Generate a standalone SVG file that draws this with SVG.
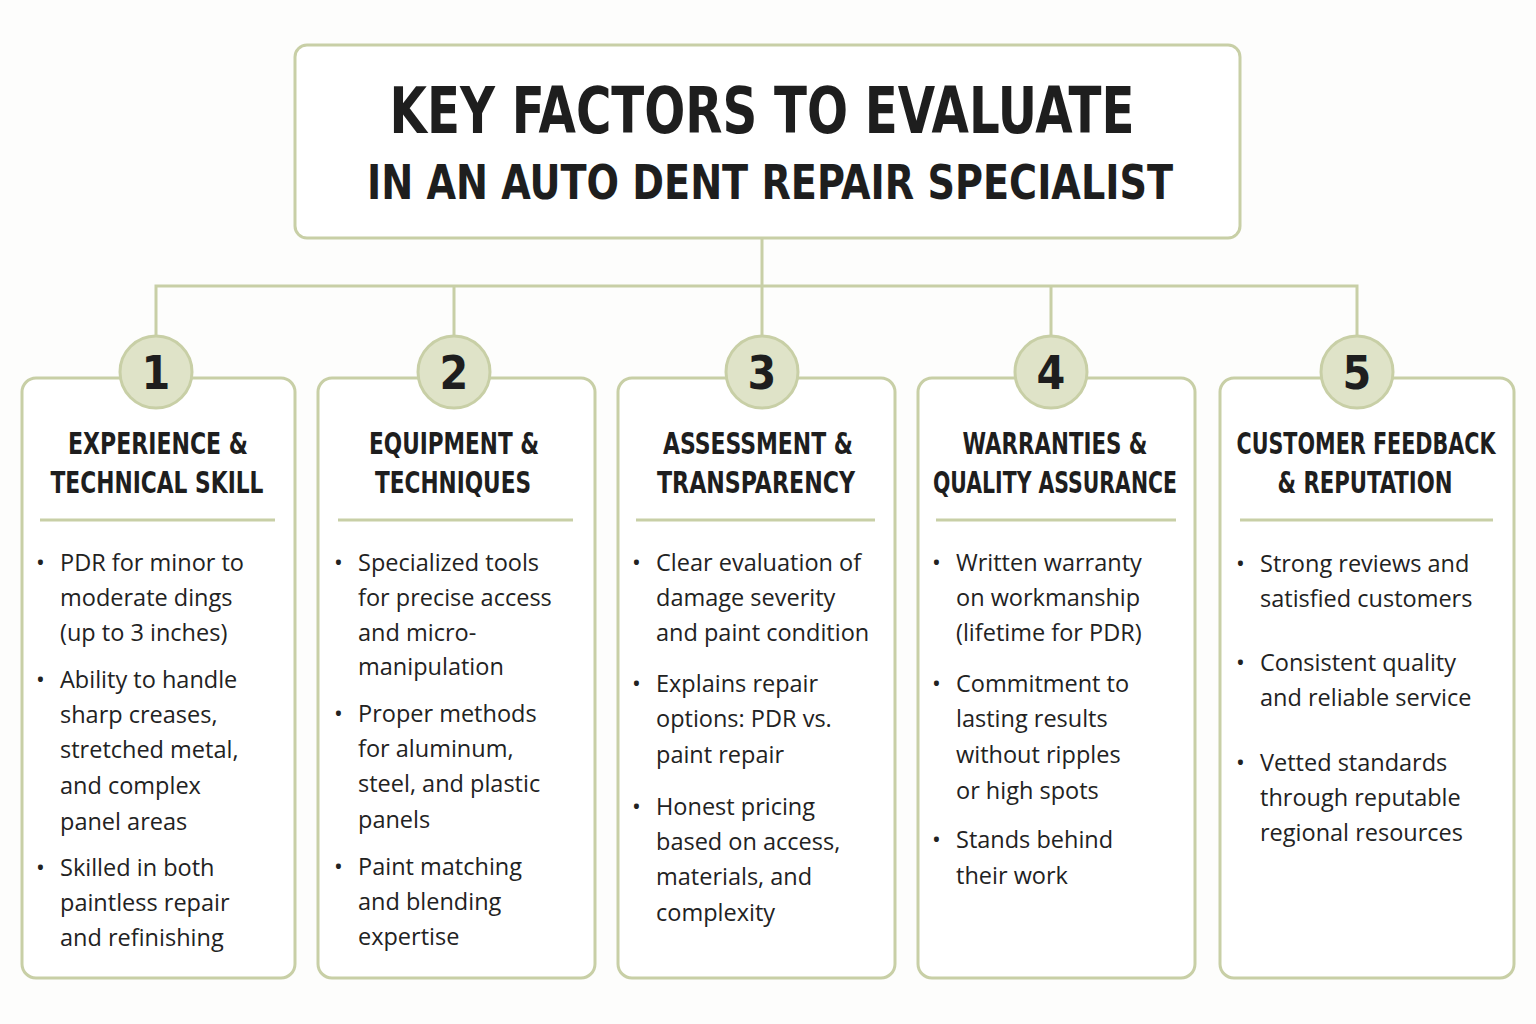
<svg xmlns="http://www.w3.org/2000/svg" width="1536" height="1024" viewBox="0 0 1536 1024">
<style>
.box{fill:#fff;stroke:#c8cfa6;stroke-width:3}
.num{fill:#dfe3c8;stroke:#c8cfa6;stroke-width:3}
.n{font-family:"DejaVu Sans Condensed","DejaVu Sans",sans-serif;font-weight:bold;font-size:46px;fill:#1e1e1e;text-anchor:middle}
.h{font-family:"DejaVu Sans Condensed","DejaVu Sans",sans-serif;font-weight:bold;font-size:30px;fill:#1e1e1e;text-anchor:middle}
.b{font-family:"Open Sans","Noto Sans",sans-serif;font-size:23.5px;fill:#222}
.sep{stroke:#c8cfa6;stroke-width:3}
.con{fill:none;stroke:#c8cfa6;stroke-width:3}
.t1{font-family:"DejaVu Sans Condensed","DejaVu Sans",sans-serif;font-weight:bold;font-size:64px;fill:#1e1e1e;text-anchor:middle}
.t2{font-family:"DejaVu Sans Condensed","DejaVu Sans",sans-serif;font-weight:bold;font-size:48px;fill:#1e1e1e;text-anchor:middle}
</style>
<rect width="1536" height="1024" fill="#fdfdfc"/>
<g id="connectors">
<path class="con" d="M762 238V286M156 336V286H1357V336M454 286V336M762 286V336M1051 286V336"/>
</g>
<g id="title">
<rect class="box" x="295" y="45" width="945" height="193" rx="12"/>
<text class="t1" x="762" y="133" textLength="745" lengthAdjust="spacingAndGlyphs">KEY FACTORS TO EVALUATE</text>
<text class="t2" x="770" y="199" textLength="806" lengthAdjust="spacingAndGlyphs">IN AN AUTO DENT REPAIR SPECIALIST</text>
</g>
<g id="card1">
<rect class="box" x="22" y="378" width="273" height="600" rx="14"/>
<circle class="num" cx="156" cy="372" r="36"/><text class="n" x="156" y="389">1</text>
<text class="h" x="158" y="454" textLength="180" lengthAdjust="spacingAndGlyphs">EXPERIENCE &amp;</text><text class="h" x="157" y="493" textLength="213" lengthAdjust="spacingAndGlyphs">TECHNICAL SKILL</text>
<line class="sep" x1="40" y1="520" x2="275" y2="520"/>
<text class="b"><tspan x="36" y="571">•</tspan><tspan x="60" y="571">PDR for minor to</tspan><tspan x="60" y="606">moderate dings</tspan><tspan x="60" y="641">(up to 3 inches)</tspan>
<tspan x="36" y="688">•</tspan><tspan x="60" y="688">Ability to handle</tspan><tspan x="60" y="723">sharp creases,</tspan><tspan x="60" y="758">stretched metal,</tspan><tspan x="60" y="794">and complex</tspan><tspan x="60" y="830">panel areas</tspan>
<tspan x="36" y="876">•</tspan><tspan x="60" y="876">Skilled in both</tspan><tspan x="60" y="911">paintless repair</tspan><tspan x="60" y="946">and refinishing</tspan></text>
</g>
<g id="card2">
<rect class="box" x="318" y="378" width="277" height="600" rx="14"/>
<circle class="num" cx="454" cy="372" r="36"/><text class="n" x="454" y="389">2</text>
<text class="h" x="454" y="454" textLength="170" lengthAdjust="spacingAndGlyphs">EQUIPMENT &amp;</text><text class="h" x="453" y="493" textLength="156" lengthAdjust="spacingAndGlyphs">TECHNIQUES</text>
<line class="sep" x1="338" y1="520" x2="573" y2="520"/>
<text class="b"><tspan x="334" y="571">•</tspan><tspan x="358" y="571">Specialized tools</tspan><tspan x="358" y="606">for precise access</tspan><tspan x="358" y="641">and micro-</tspan><tspan x="358" y="675">manipulation</tspan>
<tspan x="334" y="722">•</tspan><tspan x="358" y="722">Proper methods</tspan><tspan x="358" y="757">for aluminum,</tspan><tspan x="358" y="792">steel, and plastic</tspan><tspan x="358" y="828">panels</tspan>
<tspan x="334" y="875">•</tspan><tspan x="358" y="875">Paint matching</tspan><tspan x="358" y="910">and blending</tspan><tspan x="358" y="945">expertise</tspan></text>
</g>
<g id="card3">
<rect class="box" x="618" y="378" width="277" height="600" rx="14"/>
<circle class="num" cx="762" cy="372" r="36"/><text class="n" x="762" y="389">3</text>
<text class="h" x="758" y="454" textLength="190" lengthAdjust="spacingAndGlyphs">ASSESSMENT &amp;</text><text class="h" x="756" y="493" textLength="198" lengthAdjust="spacingAndGlyphs">TRANSPARENCY</text>
<line class="sep" x1="636" y1="520" x2="875" y2="520"/>
<text class="b"><tspan x="632" y="571">•</tspan><tspan x="656" y="571">Clear evaluation of</tspan><tspan x="656" y="606">damage severity</tspan><tspan x="656" y="641">and paint condition</tspan>
<tspan x="632" y="692">•</tspan><tspan x="656" y="692">Explains repair</tspan><tspan x="656" y="727">options: PDR vs.</tspan><tspan x="656" y="763">paint repair</tspan>
<tspan x="632" y="815">•</tspan><tspan x="656" y="815">Honest pricing</tspan><tspan x="656" y="850">based on access,</tspan><tspan x="656" y="885">materials, and</tspan><tspan x="656" y="921">complexity</tspan></text>
</g>
<g id="card4">
<rect class="box" x="918" y="378" width="277" height="600" rx="14"/>
<circle class="num" cx="1051" cy="372" r="36"/><text class="n" x="1051" y="389">4</text>
<text class="h" x="1055" y="454" textLength="185" lengthAdjust="spacingAndGlyphs">WARRANTIES &amp;</text><text class="h" x="1055" y="493" textLength="244" lengthAdjust="spacingAndGlyphs">QUALITY ASSURANCE</text>
<line class="sep" x1="936" y1="520" x2="1176" y2="520"/>
<text class="b"><tspan x="932" y="571">•</tspan><tspan x="956" y="571">Written warranty</tspan><tspan x="956" y="606">on workmanship</tspan><tspan x="956" y="641">(lifetime for PDR)</tspan>
<tspan x="932" y="692">•</tspan><tspan x="956" y="692">Commitment to</tspan><tspan x="956" y="727">lasting results</tspan><tspan x="956" y="763">without ripples</tspan><tspan x="956" y="799">or high spots</tspan>
<tspan x="932" y="848">•</tspan><tspan x="956" y="848">Stands behind</tspan><tspan x="956" y="884">their work</tspan></text>
</g>
<g id="card5">
<rect class="box" x="1220" y="378" width="294" height="600" rx="14"/>
<circle class="num" cx="1357" cy="372" r="36"/><text class="n" x="1357" y="389">5</text>
<text class="h" x="1366" y="454" textLength="259" lengthAdjust="spacingAndGlyphs">CUSTOMER FEEDBACK</text><text class="h" x="1365" y="493" textLength="175" lengthAdjust="spacingAndGlyphs">&amp; REPUTATION</text>
<line class="sep" x1="1240" y1="520" x2="1493" y2="520"/>
<text class="b"><tspan x="1236" y="572">•</tspan><tspan x="1260" y="572">Strong reviews and</tspan><tspan x="1260" y="607">satisfied customers</tspan>
<tspan x="1236" y="671">•</tspan><tspan x="1260" y="671">Consistent quality</tspan><tspan x="1260" y="706">and reliable service</tspan>
<tspan x="1236" y="771">•</tspan><tspan x="1260" y="771">Vetted standards</tspan><tspan x="1260" y="806">through reputable</tspan><tspan x="1260" y="841">regional resources</tspan></text>
</g>
</svg>
